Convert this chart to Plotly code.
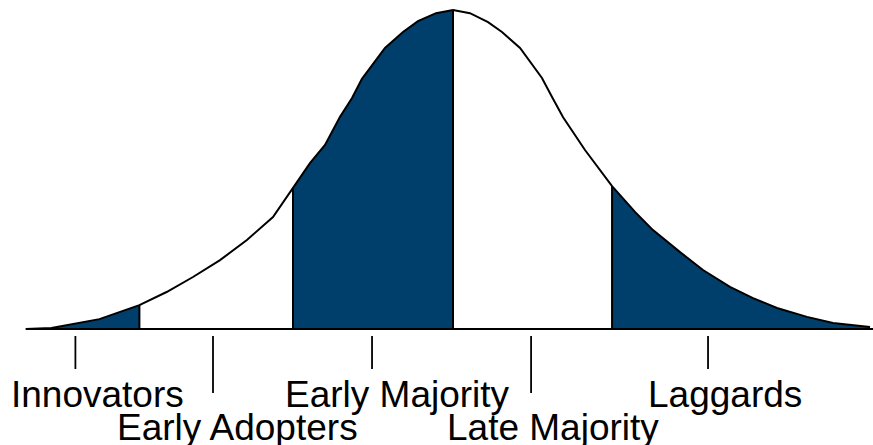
import plotly.graph_objects as go

# Bell curve vertices (x in standard deviations, y relative to peak)
curve_x = [-2.67, -2.51, -2.21, -1.96, -1.79, -1.625, -1.456, -1.288, -1.125, -1.0,
           -0.894, -0.8, -0.706, -0.631, -0.569, -0.425, -0.3125, -0.219, -0.106, 0.0,
           0.106, 0.219, 0.306, 0.419, 0.556, 0.619, 0.688, 0.825, 0.994,
           1.1375, 1.25, 1.419, 1.5625, 1.731, 1.875, 2.025, 2.2125, 2.375, 2.606]
curve_y = [0.0, 0.003, 0.031, 0.075, 0.116, 0.163, 0.216, 0.279, 0.351, 0.442,
           0.520, 0.577, 0.665, 0.724, 0.784, 0.881, 0.931, 0.965, 0.990, 1.0,
           0.990, 0.962, 0.931, 0.881, 0.787, 0.727, 0.664, 0.561, 0.448,
           0.367, 0.310, 0.241, 0.185, 0.132, 0.097, 0.066, 0.038, 0.019, 0.006]

# Segment boundaries and which segments are shaded
segment_bounds = [-2.67, -1.96, -1.0, 0.0, 0.994, 2.606]
segment_filled = [True, False, True, False, True]

categories = ["Innovators", "Early Adopters", "Early Majority", "Late Majority", "Laggards"]
tick_x = [-2.36, -1.5, -0.506, 0.488, 1.594]
label_x = [-2.225, -1.344, -0.35, 0.625, 1.70]
label_row = [0, 1, 0, 1, 0]

FILL = "#003E6C"
PX = 160.0          # pixels per sigma
X0 = 453.0          # pixel of mean
Y0 = 329.0          # pixel of baseline
YS = 319.0          # pixels per unit height


def py(p):
    return (Y0 - p) / YS


fig = go.Figure()

for i, filled in enumerate(segment_filled):
    lo, hi = segment_bounds[i], segment_bounds[i + 1]
    xs = [x for x in curve_x if lo <= x <= hi]
    ys = [y for x, y in zip(curve_x, curve_y) if lo <= x <= hi]
    fig.add_trace(go.Scatter(
        x=[xs[0]] + xs + [xs[-1]], y=[0] + ys + [0],
        mode="lines", fill="toself",
        fillcolor=FILL if filled else "white",
        line=dict(width=0), hoverinfo="skip", showlegend=False))

# curve outline
fig.add_trace(go.Scatter(x=curve_x, y=curve_y, mode="lines",
                         line=dict(color="black", width=2),
                         hoverinfo="skip", showlegend=False))

shapes = []
# baseline
shapes.append(dict(type="line", x0=curve_x[0], x1=(873 - X0) / PX, y0=0, y1=0,
                   line=dict(color="black", width=2.2)))
# boundary verticals
for b in segment_bounds[1:-1]:
    yb = curve_y[curve_x.index(b)]
    shapes.append(dict(type="line", x0=b, x1=b, y0=0, y1=yb,
                       line=dict(color="black", width=2)))
# ticks
for tx, row in zip(tick_x, label_row):
    shapes.append(dict(type="line", x0=tx, x1=tx, y0=py(336),
                       y1=py(369) if row == 0 else py(393),
                       line=dict(color="black", width=1.8)))

annotations = []
for name, lx, row in zip(categories, label_x, label_row):
    annotations.append(dict(x=lx, y=py(394 if row == 0 else 427), text=name,
                            showarrow=False, xanchor="center", yanchor="middle",
                            font=dict(family="Liberation Sans, Arial", size=37, color="black")))

fig.update_layout(
    width=873, height=445,
    margin=dict(l=0, r=0, t=0, b=0),
    paper_bgcolor="white", plot_bgcolor="white",
    xaxis=dict(range=[-X0 / PX, (873 - X0) / PX], visible=False, fixedrange=True),
    yaxis=dict(range=[py(445), py(0)], visible=False, fixedrange=True),
    shapes=shapes, annotations=annotations,
    showlegend=False,
)

fig.write_html("out.html", config={"displayModeBar": False},
               post_script="document.body.style.margin='0';document.body.style.overflow='hidden';")
